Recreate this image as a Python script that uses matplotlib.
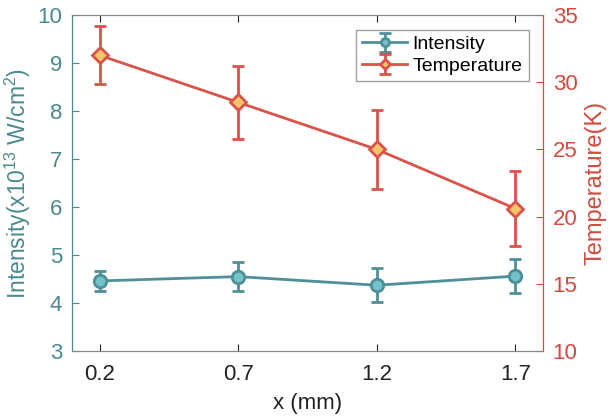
import numpy as np
import matplotlib.pyplot as plt

plt.rcParams['font.family'] = ['Liberation Sans', 'DejaVu Sans']
plt.rcParams['mathtext.fontset'] = 'custom'
plt.rcParams['mathtext.rm'] = 'Liberation Sans'

x = [0.2, 0.7, 1.2, 1.7]
intensity = [4.46, 4.55, 4.37, 4.56]
intensity_err = [0.2, 0.31, 0.35, 0.36]
temperature = [32.0, 28.5, 25.0, 20.6]
temperature_err = [2.15, 2.7, 2.95, 2.8]

teal = "#4f8f97"
teal_fill = "#72c2c9"
red = "#d9534a"
red_fill = "#f2c46c"
teal_txt = "#4a8990"
red_txt = "#d24a3e"

fig = plt.figure(figsize=(6.11, 4.19), dpi=100)
ax = fig.add_axes([72 / 611, 68 / 419, 471 / 611, 336 / 419])
ax2 = ax.twinx()

h1 = ax.errorbar(x, intensity, yerr=intensity_err, color=teal, lw=2, marker="o",
                 ms=9, mfc=teal_fill, mec=teal, mew=2, capsize=4, capthick=2,
                 elinewidth=2, label="Intensity")
h2 = ax2.errorbar(x, temperature, yerr=temperature_err, color=red, lw=2, marker="D",
                  ms=8, mfc=red_fill, mec=red, mew=2, capsize=4, capthick=2,
                  elinewidth=2, label="Temperature")

ax.set_xlim(0.1, 1.8)
ax.set_ylim(3, 10)
ax2.set_ylim(10, 35)
ax.set_xticks(x)
ax.set_xticklabels(["0.2", "0.7", "1.2", "1.7"])
ax.set_yticks(range(3, 11))
ax2.set_yticks(range(10, 36, 5))

ax.set_xlabel("x (mm)", fontsize=16, color="#222222", labelpad=6)
ax.set_ylabel(r"Intensity(x10$^{\mathrm{13}}$ W/cm$^{\mathrm{2}}$)", fontsize=16.5,
              color=teal_txt, labelpad=3)
ax2.set_ylabel("Temperature(K)", fontsize=17, color=red_txt, labelpad=5)

ax.tick_params(axis="x", direction="in", labelsize=16, colors="#222222", top=True,
               length=5, pad=9)
ax.tick_params(axis="y", direction="in", labelsize=16, colors=teal_txt, length=5, pad=7)
ax2.tick_params(axis="y", direction="in", labelsize=16, colors=red_txt, length=5, pad=7)

for a in (ax, ax2):
    a.spines["top"].set_color("#888888")
    a.spines["bottom"].set_color("#888888")
    a.spines["left"].set_color(teal_txt)
    a.spines["right"].set_color(red_txt)

leg = ax.legend([h1, h2], ["Intensity", "Temperature"], loc="upper right",
                fontsize=14, frameon=True, fancybox=False, edgecolor="#888888",
                borderpad=0.3, handlelength=2.3, handletextpad=0.3,
                labelspacing=0.2, markerscale=0.65, bbox_to_anchor=(0.99, 0.985))
leg.get_frame().set_linewidth(1)

fig.savefig("out.png", dpi=100)
